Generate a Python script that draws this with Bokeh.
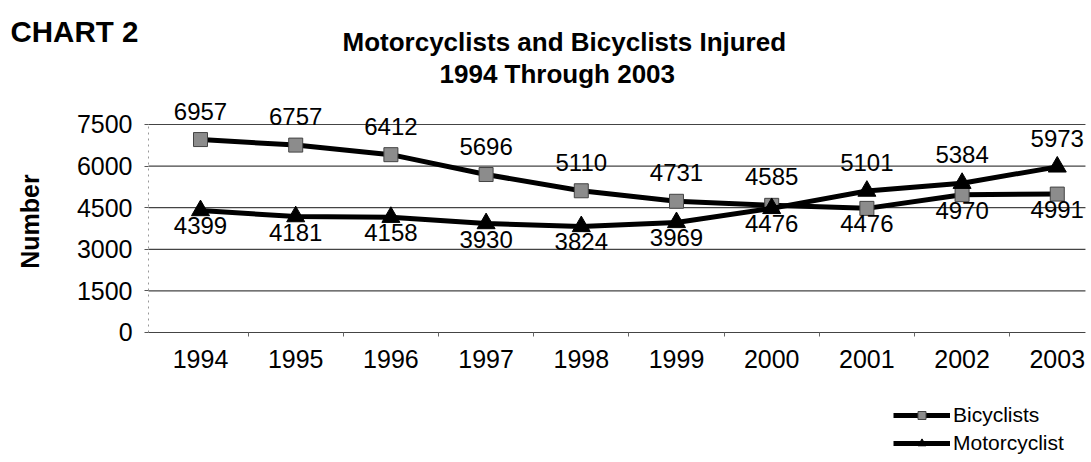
import math
from bokeh.plotting import figure
from bokeh.models import (Range1d, FixedTicker, Label, LabelSet, Legend, LegendItem,
                          ColumnDataSource)
from bokeh.core.properties import value
from bokeh.embed import file_html
from bokeh.resources import INLINE

# ---- data ----
years = ["1994", "1995", "1996", "1997", "1998", "1999", "2000", "2001", "2002", "2003"]
bicyclists = [6957, 6757, 6412, 5696, 5110, 4731, 4585, 4476, 4970, 4991]
motorcyclist = [4399, 4181, 4158, 3930, 3824, 3969, 4476, 5101, 5384, 5973]
y_ticks = [0, 1500, 3000, 4500, 6000, 7500]

FONT = "Liberation Sans"
W, H = 1088, 454
idx = list(range(len(years)))

# plot-area extent in data units (the frame covers the whole canvas so that the
# titles and legend around the plot area are drawn without clipping)
X_LEFT, X_RIGHT = -0.546, 9.296
p = figure(width=W, height=H, output_backend="svg", toolbar_location=None,
           x_range=Range1d(-2.101, 9.328), y_range=Range1d(-4399, 11971),
           min_border_left=0, min_border_right=0, min_border_top=0,
           min_border_bottom=0)
p.outline_line_color = None
p.xgrid.grid_line_color = None
p.ygrid.grid_line_color = None

# horizontal gridlines across the plot area
p.segment(x0=X_LEFT, x1=X_RIGHT, y0=y_ticks, y1=y_ticks,
          line_color="#444444", line_width=1.2)

# y axis (fixed at the plot-area's left edge)
p.yaxis.fixed_location = X_LEFT
p.yaxis.ticker = FixedTicker(ticks=y_ticks)
p.yaxis.bounds = (0, 7500)
p.yaxis.axis_line_color = "#999999"
p.yaxis.axis_line_dash = "dotted"
p.yaxis.major_tick_line_color = "#555555"
p.yaxis.major_tick_out = 4
p.yaxis.major_tick_in = 0
p.yaxis.minor_tick_line_color = None
p.yaxis.major_label_standoff = 12
p.yaxis.major_label_text_font = FONT
p.yaxis.major_label_text_font_size = "25px"
p.yaxis.major_label_text_color = "black"

# x axis (fixed at y = 0)
p.xaxis.fixed_location = 0
p.xaxis.ticker = FixedTicker(ticks=idx, minor_ticks=[i + 0.5 for i in idx[:-1]])
p.xaxis.bounds = (X_LEFT, X_RIGHT)
p.xaxis.major_label_overrides = {i: y for i, y in zip(idx, years)}
p.xaxis.axis_line_color = None
p.xaxis.major_tick_line_color = None
p.xaxis.major_tick_out = 0
p.xaxis.major_tick_in = 0
p.xaxis.minor_tick_line_color = "#666666"
p.xaxis.minor_tick_out = 4
p.xaxis.minor_tick_in = 0
p.xaxis.major_label_standoff = 14
p.xaxis.major_label_text_font = FONT
p.xaxis.major_label_text_font_size = "25px"
p.xaxis.major_label_text_color = "black"

# series
bl = p.line(idx, bicyclists, line_color="black", line_width=5)
bs = p.scatter(idx, bicyclists, marker="square", size=14, fill_color="#8c8c8c",
               line_color="#444444", line_width=1)
ml = p.line(idx, motorcyclist, line_color="black", line_width=5)
ms = p.scatter(idx, motorcyclist, marker="triangle", size=18, fill_color="black",
               line_color="black")

# data labels: placed on the side away from the other series
bic_up = [b >= m for b, m in zip(bicyclists, motorcyclist)]

def make_src(xs, vals, mask):
    return ColumnDataSource(dict(
        x=[x for x, k in zip(xs, mask) if k],
        y=[v for v, k in zip(vals, mask) if k],
        t=[str(v) for v, k in zip(vals, mask) if k]))

above = [make_src(idx, bicyclists, bic_up),
         make_src(idx, motorcyclist, [not k for k in bic_up])]
below = [make_src(idx, bicyclists, [not k for k in bic_up]),
         make_src(idx, motorcyclist, bic_up)]

for src in above:
    p.add_layout(LabelSet(x="x", y="y", text="t", source=src, y_offset=20,
                          text_align="center", text_baseline="alphabetic",
                          text_font=value(FONT), text_font_size="24px",
                          text_color="black"))
for src in below:
    p.add_layout(LabelSet(x="x", y="y", text="t", source=src, y_offset=-24,
                          text_align="center", text_baseline="alphabetic",
                          text_font=value(FONT), text_font_size="24px",
                          text_color="black"))

# titles (screen px: x from left edge, y up from bottom edge)
def title(x, y, text, size, angle=0.0, align="left", baseline="alphabetic"):
    p.add_layout(Label(x=x, y=y, x_units="screen", y_units="screen", text=text,
                       angle=angle, text_font=FONT, text_font_size=size,
                       text_font_style="bold", text_align=align,
                       text_baseline=baseline, text_color="black"))

title(10, H - 30.7, "CHART 2", "29.5px")
title(342, H - 41.7, "Motorcyclists and Bicyclists Injured", "26px")
title(439, H - 73, "1994 Through 2003", "26px")
title(29, H - 221, "Number", "25px", angle=math.pi / 2, align="center",
      baseline="middle")

legend = Legend(items=[LegendItem(label="Bicyclists", renderers=[bl, bs]),
                       LegendItem(label="Motorcyclist", renderers=[ml, ms])],
                location=(893, -1), orientation="vertical",
                glyph_width=57, glyph_height=20, label_height=20, label_standoff=3,
                spacing=4, padding=0, margin=0,
                label_text_font=FONT, label_text_font_size="21px",
                label_text_color="black", border_line_color=None,
                background_fill_alpha=0)
p.add_layout(legend)

open("out.html", "w").write(file_html(p, INLINE))
